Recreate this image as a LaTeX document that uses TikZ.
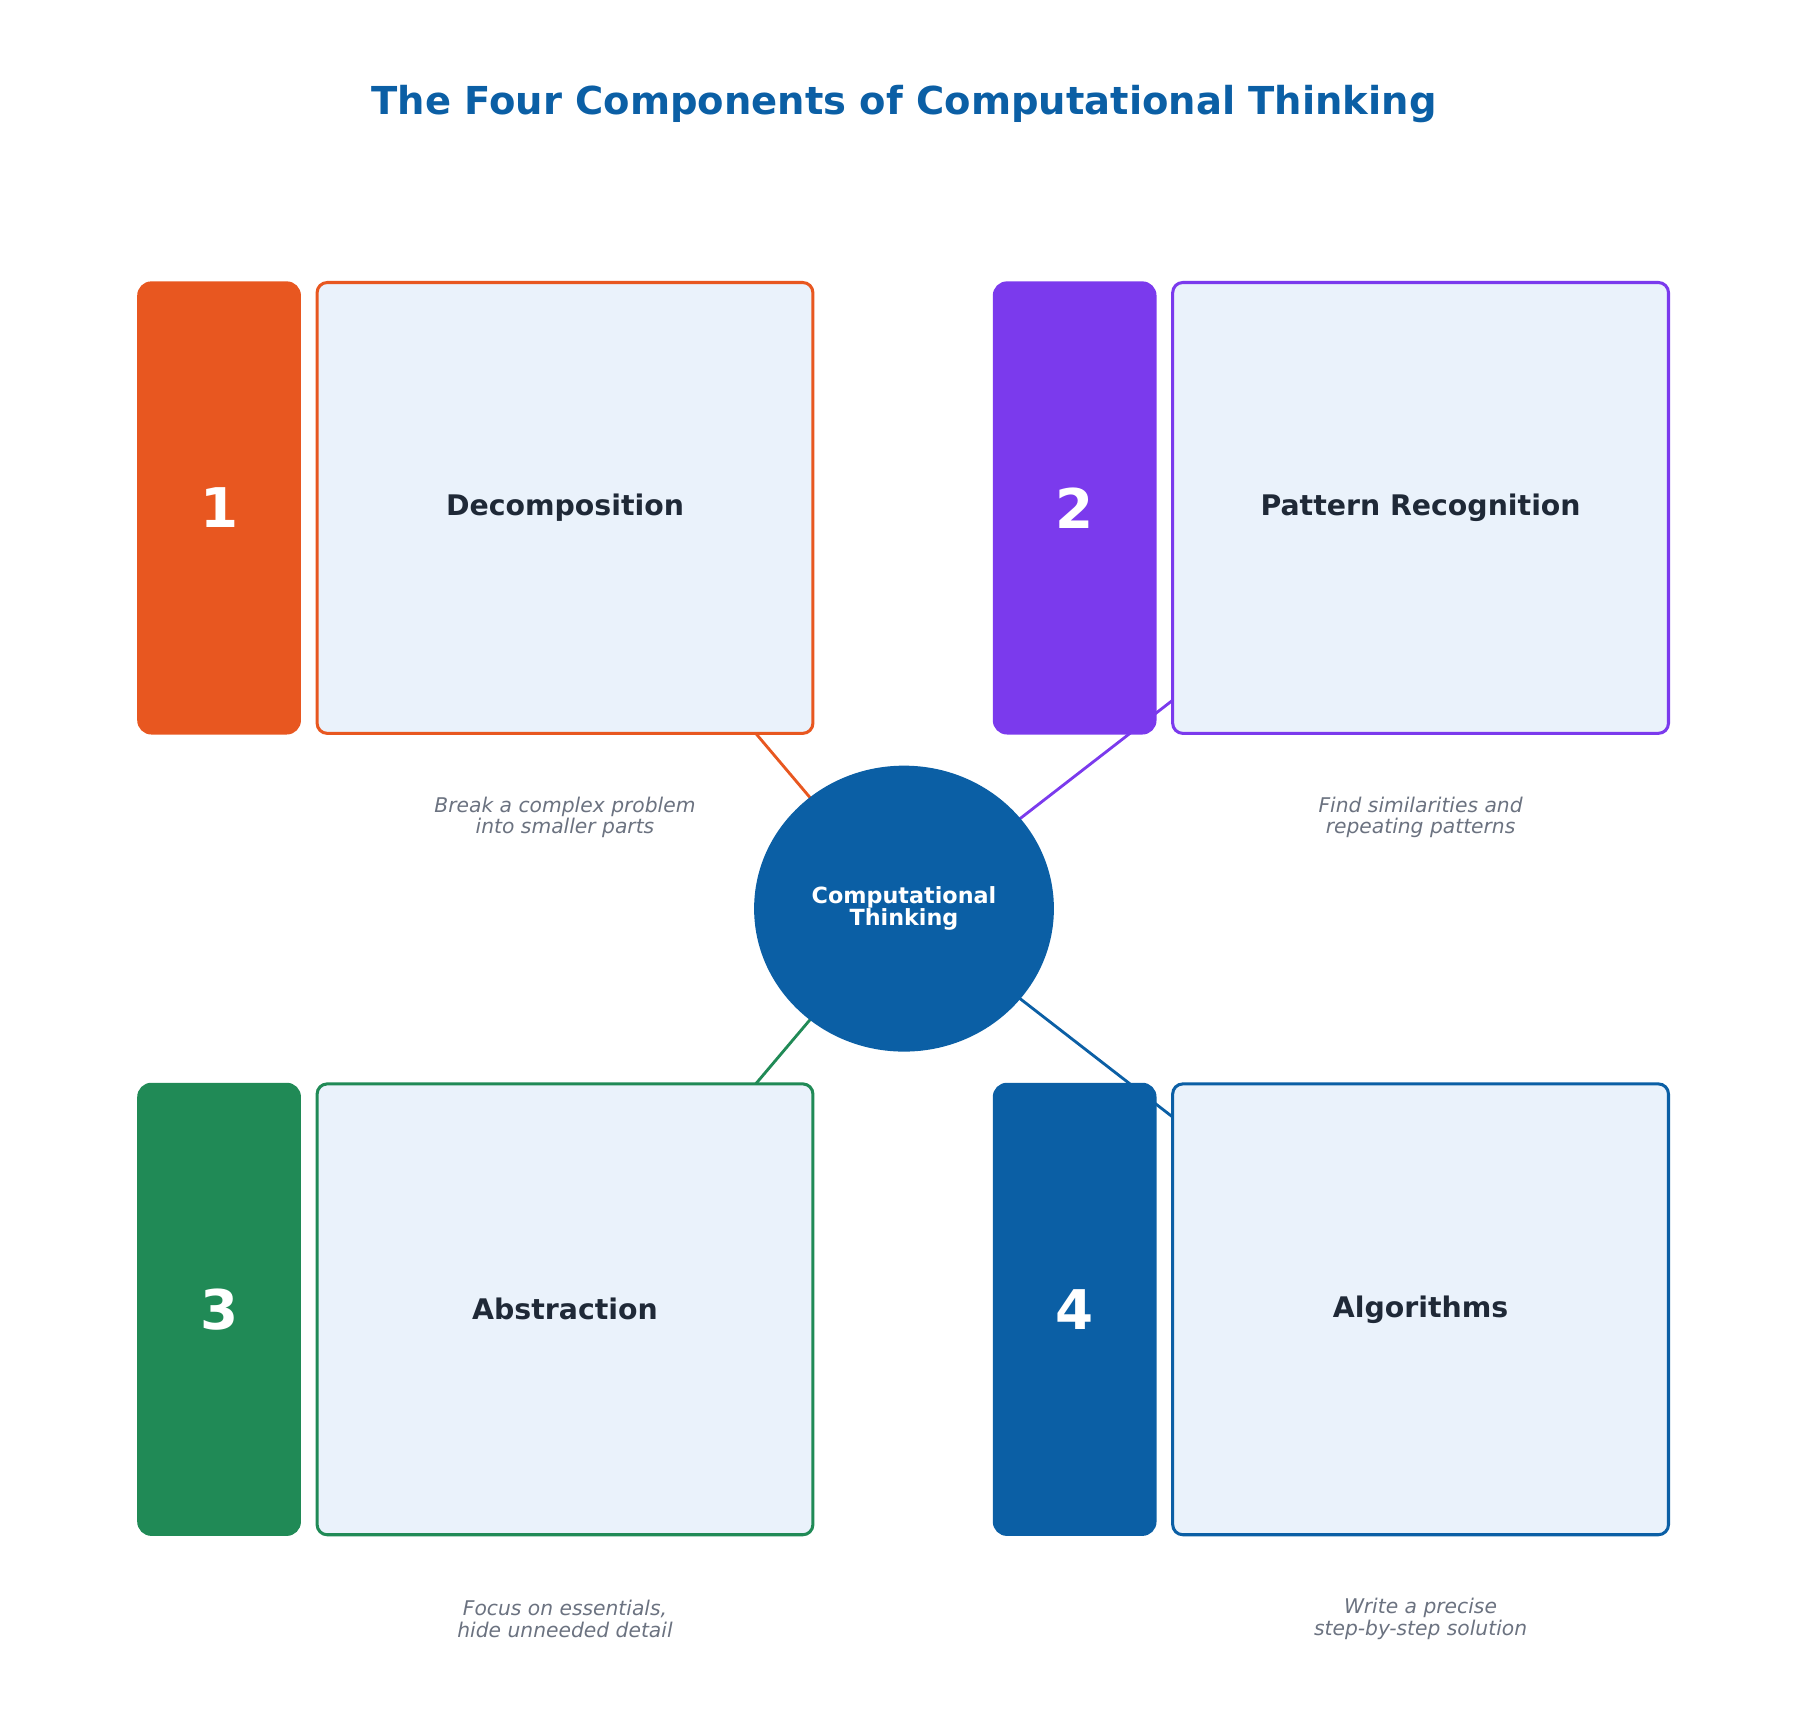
\documentclass[tikz,border=0pt]{standalone}
\usepackage{fontspec}
\setmainfont{DejaVu Sans}
\usetikzlibrary{positioning}
\usetikzlibrary{shapes.geometric}
\usetikzlibrary{backgrounds}
\definecolor{myorange}{HTML}{E85720}
\definecolor{mypurple}{HTML}{7B3AED}
\definecolor{mygreen}{HTML}{208A56}
\definecolor{myblue}{HTML}{0B5FA5}
\definecolor{myfill}{HTML}{EAF2FB}
\definecolor{mydark}{HTML}{1F2937}
\definecolor{mygray}{HTML}{6B7280}
\tikzstyle{mytab}=[fill=#1,rounded corners=7pt,minimum width=142*0.02cm,minimum height=393*0.02cm,
                   text=white,font=\bfseries\fontsize{27}{30}\selectfont,inner sep=0pt]
\tikzstyle{mybox}=[draw=#1,fill=myfill,line width=1.5pt,rounded corners=5pt,minimum width=430*0.02cm,
                   minimum height=391*0.02cm,text=mydark,font=\bfseries\fontsize{14}{16}\selectfont]
\tikzstyle{mycomment}=[text=mygray,font=\itshape\fontsize{10}{10.5}\selectfont,align=center]
\tikzstyle{myline}=[#1,line width=1.4pt]

\begin{document}
\begin{tikzpicture}[x=0.02cm,y=-0.02cm]
  \useasboundingbox (0,0) rectangle (1568,1499);

  % title
  \node[text=myblue,font=\bfseries\fontsize{19}{22}\selectfont] (title) at (784,90)
    {The Four Components of Computational Thinking};

  % 1
  \node[mytab=myorange] (t1) at (190,440.5) {1};
  \node[mybox=myorange] (dec) at (490,440.5) {Decomposition};
  \node[mycomment] (d1) at (490,709) {Break a complex problem\\into smaller parts};

  % 2
  \node[mytab=mypurple] (t2) at (932,440.5) {2};
  \node[mybox=mypurple] (pat) at (1232,440.5) {Pattern Recognition};
  \node[mycomment] (d2) at (1232,709) {Find similarities and\\repeating patterns};

  % 3
  \node[mytab=mygreen] (t3) at (190,1135.5) {3};
  \node[mybox=mygreen] (abs) at (490,1135.5) {Abstraction};
  \node[mycomment] (d3) at (490,1404) {Focus on essentials,\\hide unneeded detail};

  % 4
  \node[mytab=myblue] (t4) at (932,1135.5) {4};
  \node[mybox=myblue] (alg) at (1232,1135.5) {Algorithms};
  \node[mycomment] (d4) at (1232,1404) {Write a precise\\step-by-step solution};

  % centre
  \node[ellipse,fill=myblue,minimum width=260*0.02cm,minimum height=248*0.02cm,text=white,
        align=center,font=\bfseries\fontsize{11}{11}\selectfont] (ct) at (784,788)
    {Computational\\Thinking};

  % LINES
  \begin{pgfonlayer}{background}
    \draw[myline=myorange] (ct.center) -- (dec.center);
    \draw[myline=mypurple] (ct.center) -- (pat.center);
    \draw[myline=mygreen] (ct.center) -- (abs.center);
    \draw[myline=myblue] (ct.center) -- (alg.center);
  \end{pgfonlayer}
\end{tikzpicture}
\end{document}
